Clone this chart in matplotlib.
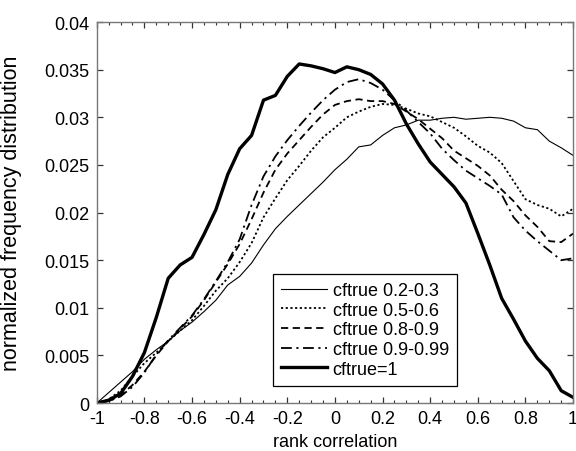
import matplotlib
matplotlib.use("Agg")
import matplotlib.pyplot as plt
from matplotlib.ticker import MultipleLocator

plt.rcParams['font.family'] = ['Liberation Sans', 'DejaVu Sans']

# rank correlation grid (bin centres)
rank = [-1.0, -0.95, -0.9, -0.85, -0.8, -0.75, -0.7, -0.65, -0.6, -0.55,
        -0.5, -0.45, -0.4, -0.35, -0.3, -0.25, -0.2, -0.15, -0.1, -0.05,
        0.0, 0.05, 0.1, 0.15, 0.2, 0.25, 0.3, 0.35, 0.4, 0.45,
        0.5, 0.55, 0.6, 0.65, 0.7, 0.75, 0.8, 0.85, 0.9, 0.95, 1.0]

cf_02_03 = [0.0, 0.0011, 0.0022, 0.0033, 0.0046, 0.0056, 0.0065, 0.0076, 0.0085, 0.0096,
            0.0108, 0.0124, 0.0133, 0.0147, 0.0166, 0.0183, 0.0196, 0.0208, 0.0220, 0.0232,
            0.0245, 0.0256, 0.0269, 0.0271, 0.0281, 0.0289, 0.0292, 0.0297, 0.0297, 0.0299,
            0.0300, 0.0298, 0.0299, 0.0300, 0.0299, 0.0296, 0.0289, 0.0287, 0.0275, 0.0268, 0.0260]

cf_05_06 = [0.0, 0.0004, 0.0013, 0.0028, 0.0042, 0.0053, 0.0065, 0.0076, 0.0087, 0.0102,
            0.0118, 0.0131, 0.0148, 0.0168, 0.0195, 0.0215, 0.0234, 0.0249, 0.0265, 0.0279,
            0.0289, 0.0300, 0.0306, 0.0311, 0.0314, 0.0313, 0.0309, 0.0304, 0.0301, 0.0295,
            0.0289, 0.0280, 0.0270, 0.0263, 0.0252, 0.0233, 0.0214, 0.0208, 0.0204, 0.0196, 0.0204]

cf_08_09 = [0.0, 0.0002, 0.0008, 0.0019, 0.0033, 0.0050, 0.0065, 0.0078, 0.0091, 0.0108,
            0.0127, 0.0146, 0.0167, 0.0193, 0.0221, 0.0245, 0.0262, 0.0276, 0.0290, 0.0303,
            0.0313, 0.0317, 0.0319, 0.0317, 0.0317, 0.0314, 0.0306, 0.0298, 0.0288, 0.0278,
            0.0265, 0.0257, 0.0249, 0.0239, 0.0224, 0.0212, 0.0197, 0.0185, 0.0170, 0.0169, 0.0178]

cf_09_099 = [0.0, 0.0002, 0.0007, 0.0017, 0.0032, 0.0051, 0.0066, 0.0079, 0.0092, 0.0109,
             0.0128, 0.0148, 0.0172, 0.0208, 0.0238, 0.0259, 0.0276, 0.0291, 0.0305, 0.0318,
             0.0329, 0.0337, 0.0340, 0.0336, 0.0329, 0.0318, 0.0307, 0.0295, 0.0283, 0.0267,
             0.0255, 0.0244, 0.0236, 0.0228, 0.0219, 0.0195, 0.0181, 0.0170, 0.0160, 0.0150, 0.0152]

cf_1 = [0.0, 0.0003, 0.0010, 0.0028, 0.0053, 0.0090, 0.0131, 0.0145, 0.0153, 0.0177,
        0.0203, 0.0240, 0.0267, 0.0281, 0.0318, 0.0323, 0.0343, 0.0356, 0.0354, 0.0351,
        0.0347, 0.0353, 0.0350, 0.0345, 0.0335, 0.0318, 0.0293, 0.0272, 0.0253, 0.0240,
        0.0227, 0.0210, 0.0178, 0.0145, 0.0110, 0.0088, 0.0065, 0.0047, 0.0034, 0.0013, 0.0006]

labels = ['cftrue 0.2-0.3', 'cftrue 0.5-0.6', 'cftrue 0.8-0.9', 'cftrue 0.9-0.99', 'cftrue=1']

x_ticks = [-1, -0.8, -0.6, -0.4, -0.2, 0, 0.2, 0.4, 0.6, 0.8, 1]
x_tick_labels = ['-1', '-0.8', '-0.6', '-0.4', '-0.2', '0', '0.2', '0.4', '0.6', '0.8', '1']
y_ticks = [0, 0.005, 0.01, 0.015, 0.02, 0.025, 0.03, 0.035, 0.04]
y_tick_labels = ['0', '0.005', '0.01', '0.015', '0.02', '0.025', '0.03', '0.035', '0.04']

fs = 13

fig = plt.figure(figsize=(5.76, 4.52), dpi=100)
ax = fig.add_axes([0.168, 0.106, 0.827, 0.843])

ax.plot(rank, cf_02_03, color='black', lw=0.8, ls='-', label=labels[0])
ax.plot(rank, cf_05_06, color='black', lw=1.3, ls=(0, (1.2, 1.4)), label=labels[1])
ax.plot(rank, cf_08_09, color='black', lw=1.3, ls=(0, (4, 2.5)), label=labels[2])
ax.plot(rank, cf_09_099, color='black', lw=1.3, ls=(0, (6, 2.5, 1.2, 2.5)), label=labels[3])
ax.plot(rank, cf_1, color='black', lw=2.4, ls='-', label=labels[4])

ax.set_xlim(-1, 1)
ax.set_ylim(0, 0.04)
ax.set_xticks(x_ticks)
ax.set_xticklabels(x_tick_labels)
ax.set_yticks(y_ticks)
ax.set_yticklabels(y_tick_labels)
ax.xaxis.set_minor_locator(MultipleLocator(0.05))

ax.tick_params(which='both', direction='in', top=True, right=True,
               labelsize=fs, color='#333333', pad=5)
ax.tick_params(which='major', length=4.5, width=0.9)
ax.tick_params(which='minor', length=2.5, width=0.8)
ax.tick_params(axis='y', which='minor', left=False, right=False)

for sp in ax.spines.values():
    sp.set_color('#777777')
    sp.set_linewidth(1.0)

ax.set_xlabel('rank correlation', fontsize=fs, labelpad=4)
ax.set_ylabel('normalized frequency distribution', fontsize=15.5, labelpad=16)

leg = ax.legend(loc='lower left', bbox_to_anchor=(0.37, 0.045), fontsize=fs,
                handlelength=2.55, handletextpad=0.3, labelspacing=0.15,
                borderpad=0.45, borderaxespad=0, fancybox=False, framealpha=1)
leg.get_frame().set_edgecolor('black')
leg.get_frame().set_linewidth(0.9)

fig.savefig('out.png', dpi=100)
